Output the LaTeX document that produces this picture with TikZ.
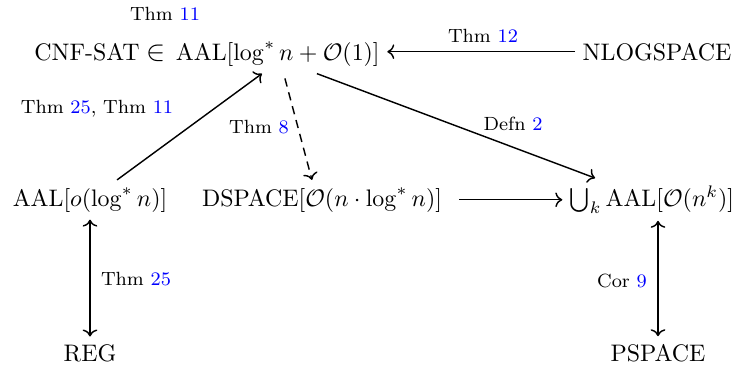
\documentclass[tikz,border=0pt]{standalone}
\usepackage{amsmath}
\usetikzlibrary{arrows.meta,positioning,calc}
\newcommand{\refnum}[1]{\textcolor{blue}{#1}}

\begin{document}
\begin{tikzpicture}[x=0.4184pt,y=-0.4184pt,every node/.style={inner sep=3pt,anchor=base},lbl/.style={font=\footnotesize,inner sep=0pt},res/.style={semithick,-{To}}]
      \useasboundingbox (0,0) rectangle (742,367);
      % classes
      \node (cnf) at (207,60) {$\text{CNF-SAT}\mathrel{\text{\large$\in$}}\,\mathrm{AAL}[\log^* n+\mathcal{O}(1)]$};
      \node (nlog) at (657,60) {NLOGSPACE};
      \node (aalo) at (90,206) {$\mathrm{AAL}[o(\log^* n)]$};
      \node (dspace) at (322,206) {$\mathrm{DSPACE}[\mathcal{O}(n\cdot\log^* n)]$};
      \node (union) at (652,206) {$\bigcup_k\mathrm{AAL}[\mathcal{O}(n^k)]$};
      \node (reg) at (90,361) {REG};
      \node (pspace) at (658,361) {PSPACE};
      % results
      \draw[res] (nlog.west) -- (cnf.east |- nlog.west);
      \draw[res] (aalo) -- ([xshift=23pt]cnf.south);
      \draw[res,dash pattern=on 3.5pt off 2.5pt] ([xshift=32.6pt,yshift=-2pt]cnf.south) -- ([xshift=-4.2pt]dspace.north);
      \draw[res] ([xshift=46pt]cnf.south) -- (union);
      \draw[res,shorten <=4pt] (dspace.east) -- (union.west |- dspace.east);
      \draw[res,{To}-{To}] (aalo.south) -- (aalo.south |- reg.north);
      \draw[res,{To}-{To}] (pspace.north |- union.south) -- (pspace.north);
      % labels
      \node[lbl] (t11) at (165,20) {Thm \refnum{11}};
      \node[lbl] (t12) at (483,42) {Thm \refnum{12}};
      \node[lbl] (t2511) at (97,113) {Thm \refnum{25}, Thm \refnum{11}};
      \node[lbl] (t8) at (259,133) {Thm \refnum{8}};
      \node[lbl] (d2) at (513,130) {Defn \refnum{2}};
      \node[lbl] (t25) at (136,285) {Thm \refnum{25}};
      \node[lbl] (c9) at (622,287) {Cor \refnum{9}};
    \end{tikzpicture}
\end{document}
